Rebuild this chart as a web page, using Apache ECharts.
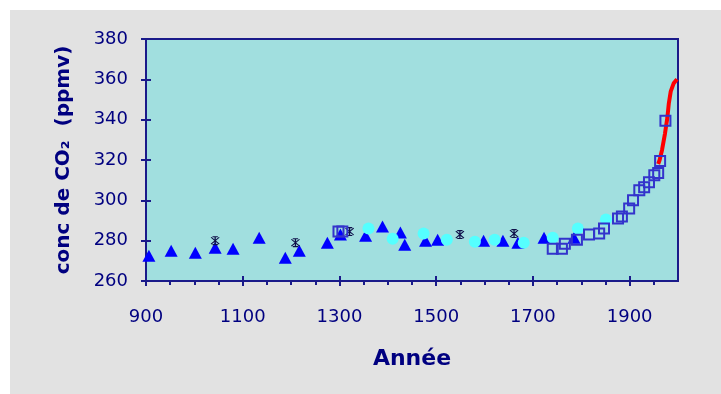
<!DOCTYPE html>
<html>
<head>
<meta charset="utf-8">
<script src="https://cdn.jsdelivr.net/npm/echarts@6/dist/echarts.min.js"></script>
<style>
  html, body { margin: 0; padding: 0; background: #ffffff; }
  #chart { position: absolute; left: 10px; top: 10px; width: 711px; height: 384px; }
</style>
</head>
<body>
<div id="chart"></div>
<script>
// ---- data (year, ppmv) ----
const triangles = [[906,272.5],[952,275],[1002,274],[1043,276.5],[1080,276],[1134,281.5],[1188,271.5],[1217,275],[1275,279],[1302,283],[1354,282.5],[1389,287],[1426,284],[1435,278],[1478,280],[1503,280.5],[1598,280],[1638,280],[1669,279],[1723,281.5],[1785,281.5]];
const asterisks = [[1043,280],[1209,279],[1321,284.5],[1549,283],[1661,283.5]];
const circles = [[1360,286],[1410,281],[1474,283.5],[1522,280.5],[1580,279.5],[1621,280.5],[1681,279],[1741,281.5],[1793,286],[1851,290.5]];
const squares = [[1298,284.5],[1306,284.5],[1741,276],[1760,276],[1766,278.5],[1791,280.5],[1816,283],[1837,283.5],[1847,286],[1876,291],[1884,292],[1899,296],[1907,300],[1920,305],[1930,306.5],[1940,309],[1951,312.5],[1959,313.5],[1963,319.5],[1974,339.5]];
const maunaLoa = [[1959,318],[1962,320],[1967,325],[1973,333],[1978,341],[1981,348],[1985,354],[1991,358],[1998,360]];

// ---- axis ticks ----
const xMajorTicks = [900,1100,1300,1500,1700,1900];
const xMinorTicks = [950,1000,1050,1150,1200,1250,1350,1400,1450,1550,1600,1650,1750,1800,1850,1950];
const xTitle = 'Année';
const yTitle = 'conc de CO\u2082  (ppmv)';

const NAVY = '#1a1a8a';
const TXT = '#000080';
const FONT = '"DejaVu Sans", sans-serif';

const asteriskPath = 'path://M4.4 0 L5.6 0 L5.6 10 L4.4 10 Z M0.8 1.6 L1.6 0.8 L9.2 8.4 L8.4 9.2 Z M8.4 0.8 L9.2 1.6 L1.6 9.2 L0.8 8.4 Z M2.5 0 L7.5 0 L7.5 1.2 L2.5 1.2 Z M2.5 8.8 L7.5 8.8 L7.5 10 L2.5 10 Z';

const chart = echarts.init(document.getElementById('chart'));
const baseX = { type: 'value', min: 900, max: 2000, position: 'bottom', splitLine: { show: false } };
const baseY = { type: 'value', min: 260, max: 380, interval: 20, position: 'left', splitLine: { show: false } };

chart.setOption({
  backgroundColor: '#e2e2e2',
  animation: false,
  grid: {
    left: 136, top: 29, width: 532, height: 242,
    show: true, backgroundColor: '#a1dfdf', borderColor: NAVY, borderWidth: 2
  },
  xAxis: [
    Object.assign({}, baseX, {
      axisLine: { show: true, lineStyle: { color: NAVY, width: 2 } },
      axisTick: { show: true, inside: false, length: 5, lineStyle: { color: NAVY, width: 2 }, customValues: xMajorTicks },
      axisLabel: { show: true, customValues: xMajorTicks, margin: 27, color: TXT, fontSize: 18, fontFamily: FONT,
        formatter: function (v) { return String(v); } },
      name: xTitle, nameLocation: 'middle', nameGap: 67,
      nameTextStyle: { color: TXT, fontSize: 22, fontWeight: 'bold', fontFamily: FONT }
    }),
    Object.assign({}, baseX, {
      axisLine: { show: false },
      axisTick: { show: true, inside: true, length: 5, lineStyle: { color: NAVY, width: 2 }, customValues: xMajorTicks },
      axisLabel: { show: false }
    }),
    Object.assign({}, baseX, {
      axisLine: { show: false },
      axisTick: { show: true, inside: false, length: 4, lineStyle: { color: NAVY, width: 2 }, customValues: xMinorTicks },
      axisLabel: { show: false }
    })
  ],
  yAxis: [
    Object.assign({}, baseY, {
      axisLine: { show: true, lineStyle: { color: NAVY, width: 2 } },
      axisTick: { show: true, inside: false, length: 5, lineStyle: { color: NAVY, width: 2 } },
      axisLabel: { show: true, margin: 18, color: TXT, fontSize: 18, fontFamily: FONT },
      name: yTitle, nameLocation: 'middle', nameGap: 72, nameRotate: 90,
      nameTextStyle: { color: TXT, fontSize: 20, fontWeight: 'bold', fontFamily: FONT }
    }),
    Object.assign({}, baseY, {
      axisLine: { show: false },
      axisTick: { show: true, inside: true, length: 5, lineStyle: { color: NAVY, width: 2 } },
      axisLabel: { show: false }
    })
  ],
  series: [
    { type: 'scatter', name: 'triangles', data: triangles, symbol: 'triangle', symbolSize: [13, 12],
      itemStyle: { color: '#0000ff', opacity: 1 }, z: 2 },
    { type: 'scatter', name: 'asterisks', data: asterisks, symbol: asteriskPath, symbolSize: 9,
      itemStyle: { color: '#10104a', opacity: 1 }, z: 3 },
    { type: 'scatter', name: 'circles', data: circles, symbol: 'circle', symbolSize: 12,
      itemStyle: { color: '#55ffff', opacity: 1 }, z: 4 },
    { type: 'line', name: 'maunaLoa', data: maunaLoa, showSymbol: false, symbol: 'none',
      lineStyle: { color: '#ff0000', width: 4 }, z: 5 },
    { type: 'scatter', name: 'squares', data: squares, symbol: 'rect', symbolSize: 10,
      itemStyle: { color: 'rgba(0,0,0,0)', borderColor: '#3333cc', borderWidth: 2, opacity: 1 }, z: 6 }
  ]
});
</script>
</body>
</html>
